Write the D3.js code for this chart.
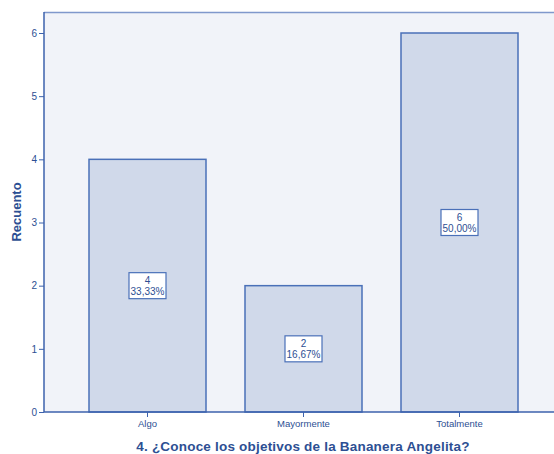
<!DOCTYPE html>
<html><head><meta charset="utf-8">
<script src="https://cdn.jsdelivr.net/npm/d3@7"></script>
<style>body{margin:0;background:#fff}svg{display:block}</style>
</head><body>
<script>
const categories = ["Algo", "Mayormente", "Totalmente"];
const counts = [4, 2, 6];
const percents = ["33,33%", "16,67%", "50,00%"];
const yTicks = [0, 1, 2, 3, 4, 5, 6];
const xTitle = "4. ¿Conoce los objetivos de la Bananera Angelita?";
const yTitle = "Recuento";

const W = 554, H = 454;
const pLeft = 44, pTop = 12, pRight = 554, pBottom = 412;
const svg = d3.select("body").append("svg").attr("width", W).attr("height", H);
const font = "Arial, 'Liberation Sans', sans-serif";
const textCol = "#2d4f93";
const axisCol = "#3d62ad";

svg.append("rect").attr("x", pLeft).attr("y", pTop).attr("width", pRight - pLeft).attr("height", pBottom - pTop)
  .attr("fill", "#f1f3f9");
svg.append("line").attr("x1", pLeft).attr("x2", pRight).attr("y1", pTop + 0.5).attr("y2", pTop + 0.5)
  .attr("stroke", "#7f98cc").attr("stroke-width", 1.5);

const y = d3.scaleLinear().domain([0, 6]).range([pBottom, 33]);
const x = d3.scaleBand().domain(categories).range([69.5, 537.5]).paddingInner(0.25).paddingOuter(0.125);

svg.selectAll("rect.bar").data(categories).enter().append("rect").attr("class", "bar")
  .attr("x", d => x(d)).attr("width", x.bandwidth())
  .attr("y", (d, i) => y(counts[i])).attr("height", (d, i) => pBottom - y(counts[i]))
  .attr("fill", "#d0d9ea").attr("stroke", "#4a70b8").attr("stroke-width", 1.5);

// y axis
const ya = svg.append("g").attr("transform", `translate(${pLeft},0)`)
  .call(d3.axisLeft(y).tickValues(yTicks).tickSize(5).tickPadding(2).tickFormat(d3.format("d")));
ya.select(".domain").attr("stroke", axisCol).attr("stroke-width", 1.5).attr("d", `M0,${pTop}V${pBottom}`);
ya.selectAll(".tick line").attr("stroke", axisCol);
ya.selectAll(".tick text").attr("fill", textCol).attr("font-family", font).attr("font-size", 10);

// x axis
const xa = svg.append("g").attr("transform", `translate(0,${pBottom})`)
  .call(d3.axisBottom(x).tickSize(5).tickPadding(3));
xa.select(".domain").attr("stroke", axisCol).attr("stroke-width", 1.5).attr("d", `M${pLeft},0H${pRight}`);
xa.selectAll(".tick line").attr("stroke", axisCol);
xa.selectAll(".tick text").attr("fill", textCol).attr("font-family", font).attr("font-size", 9.5);

// value labels
const lab = svg.selectAll("g.lab").data(categories).enter().append("g").attr("class", "lab")
  .attr("transform", (d, i) => `translate(${x(d) + x.bandwidth() / 2},${y(counts[i] / 2)})`);
lab.append("rect").attr("x", -18.5).attr("y", -13).attr("width", 37).attr("height", 26)
  .attr("fill", "#fff").attr("stroke", "#4a70b8").attr("stroke-width", 1.2);
lab.append("text").attr("y", -2).attr("text-anchor", "middle").attr("font-family", font).attr("font-size", 10)
  .attr("fill", textCol).text((d, i) => counts[i]);
lab.append("text").attr("y", 9).attr("text-anchor", "middle").attr("font-family", font).attr("font-size", 10)
  .attr("fill", textCol).text((d, i) => percents[i]);

svg.append("text").attr("x", 303).attr("y", 451).attr("text-anchor", "middle")
  .attr("font-family", font).attr("font-size", 13.5).attr("font-weight", "bold").attr("letter-spacing", 0.2)
  .attr("fill", textCol).text(xTitle);
svg.append("text").attr("transform", "translate(21,212) rotate(-90)").attr("text-anchor", "middle")
  .attr("font-family", font).attr("font-size", 13).attr("font-weight", "bold").attr("fill", textCol).text(yTitle);
</script>
</body></html>
